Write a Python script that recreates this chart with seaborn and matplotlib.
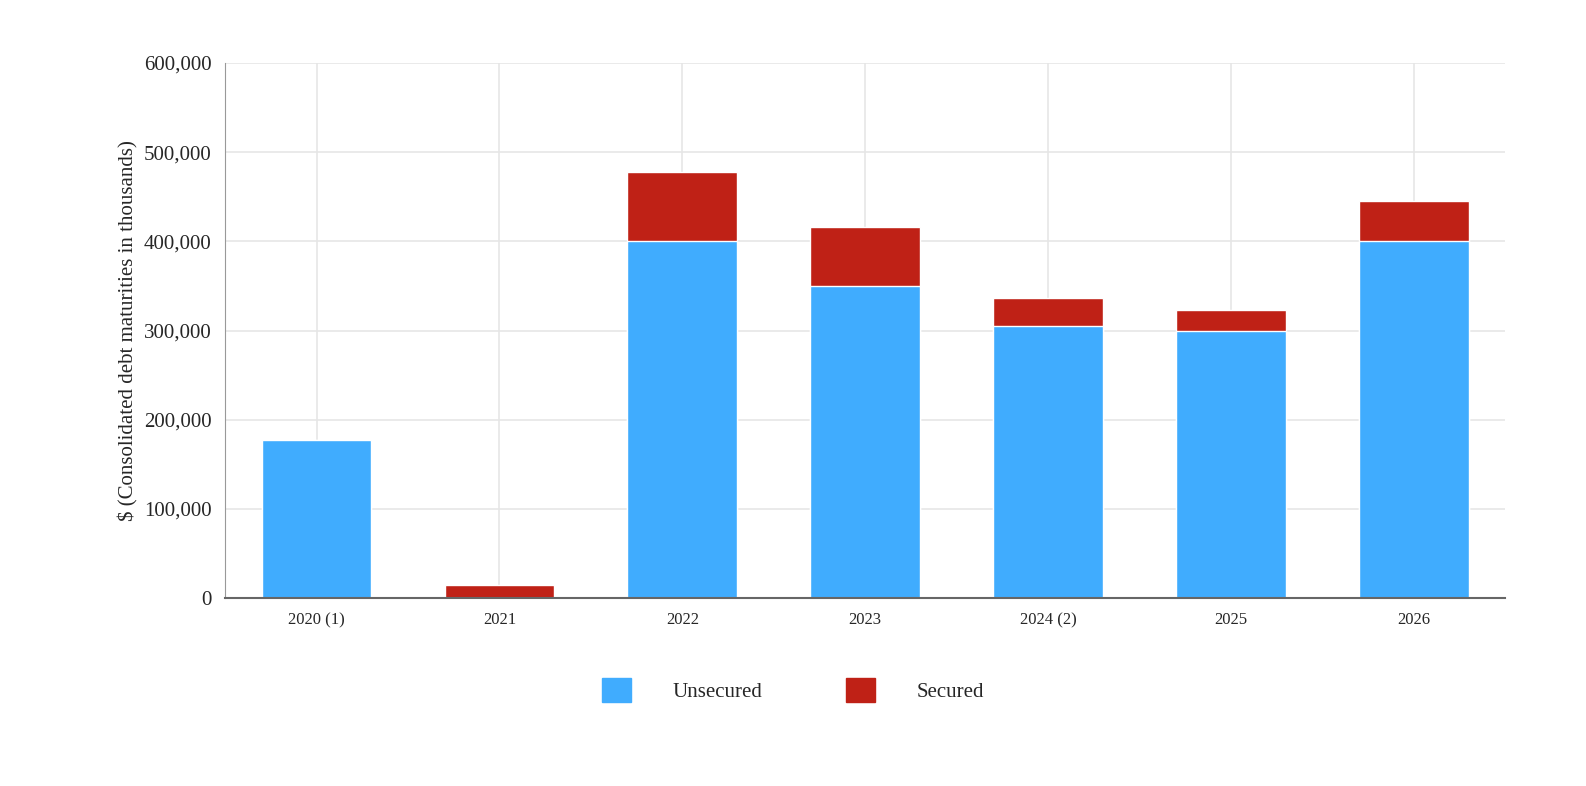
import matplotlib
matplotlib.use("Agg")
import matplotlib.pyplot as plt
import seaborn as sns
import numpy as np
from matplotlib.patches import Patch
from matplotlib.ticker import FuncFormatter

years = ["2020 (1)", "2021", "2022", "2023", "2024 (2)", "2025", "2026"]
unsecured = [177000, 0, 400000, 350000, 305000, 300000, 400000]
secured = [0, 14600, 78000, 66000, 31000, 23000, 45000]

BLUE = "#40acfe"
RED = "#bf2116"

sns.set_style("whitegrid")
plt.rcParams["font.family"] = ["Liberation Serif", "DejaVu Serif"]

fig = plt.figure(figsize=(15.86, 7.86), dpi=100)
ax = fig.add_axes([0.142, 0.239, 0.807, 0.681])

totals = np.array(unsecured) + np.array(secured)
sns.barplot(x=years, y=totals, color=RED, width=0.6, saturation=1, ax=ax)
sns.barplot(x=years, y=unsecured, color=BLUE, width=0.6, saturation=1, ax=ax)

ax.set_ylim(0, 600000)
ax.set_yticks(range(0, 600001, 100000))
ax.yaxis.set_major_formatter(FuncFormatter(lambda v, p: f"{int(v):,}"))
ax.set_ylabel("$ (Consolidated debt maturities in thousands)", fontsize=15)
ax.tick_params(axis="y", labelsize=15, length=0, pad=10)
ax.tick_params(axis="x", labelsize=12, length=0, pad=10)
ax.grid(True, color="#e6e6e6", linewidth=1.2)
ax.set_axisbelow(True)
for s in ["top", "right"]:
    ax.spines[s].set_visible(False)
ax.spines["left"].set_color("#999999")
ax.spines["bottom"].set_color("#666666")
ax.spines["bottom"].set_linewidth(1.5)

handles = [Patch(color=BLUE, label="Unsecured"), Patch(color=RED, label="Secured")]
fig.legend(handles=handles, loc="center", bbox_to_anchor=(0.5, 0.122), ncol=2,
           frameon=False, fontsize=15, handlelength=1.4, handleheight=1.4,
           columnspacing=4, handletextpad=2)

fig.savefig("out.png", dpi=100)
